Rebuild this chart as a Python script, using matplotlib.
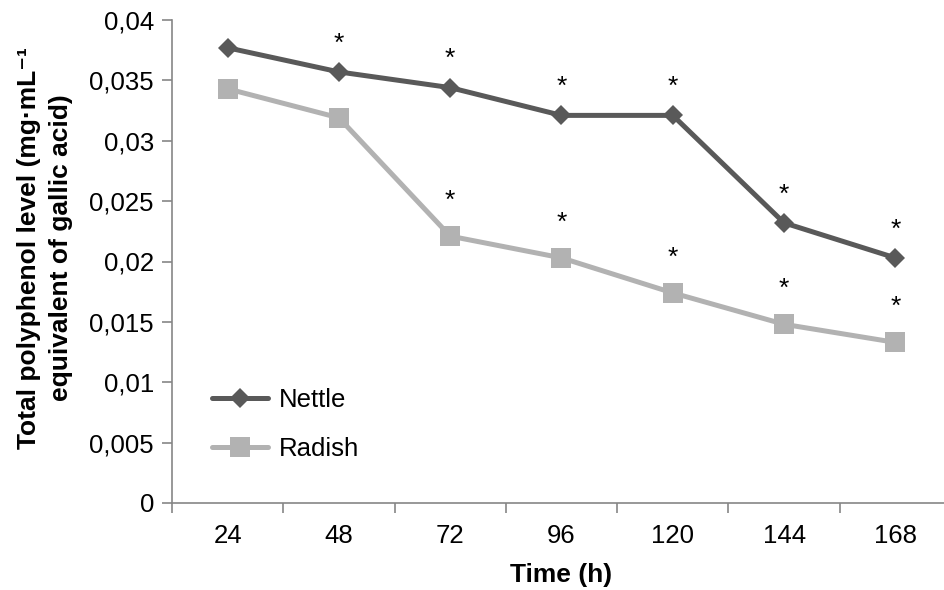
import matplotlib
matplotlib.use("Agg")
import matplotlib.pyplot as plt
import numpy as np

plt.rcParams['font.family'] = ['Liberation Sans', 'DejaVu Sans']

times = ["24", "48", "72", "96", "120", "144", "168"]
nettle = [0.0377, 0.0357, 0.0344, 0.0321, 0.0321, 0.0232, 0.0203]
radish = [0.0343, 0.0319, 0.0221, 0.0203, 0.0174, 0.0148, 0.0133]
nettle_sig = [False, True, True, True, True, True, True]
radish_sig = [False, False, True, True, True, True, True]
yticks = [0, 0.005, 0.01, 0.015, 0.02, 0.025, 0.03, 0.035, 0.04]
ytick_labels = ["0", "0,005", "0,01", "0,015", "0,02", "0,025", "0,03", "0,035", "0,04"]

c_nettle = "#595959"
c_radish = "#b2b2b2"
c_axis = "#868686"
FS = 18.5

fig = plt.figure(figsize=(9.45, 5.9), dpi=100)
ax = fig.add_axes([172/945, 1-503/590, (951-172)/945, (503-20)/590])

x = np.arange(len(times))
ax.plot(x, nettle, color=c_nettle, lw=3.6, marker='D', markersize=10.5,
        markeredgewidth=0, label="Nettle", solid_capstyle='round', zorder=3)
ax.plot(x, radish, color=c_radish, lw=3.6, marker='s', markersize=14,
        markeredgewidth=0, label="Radish", solid_capstyle='round', zorder=3)

for xi, v, s in zip(x, nettle, nettle_sig):
    if s:
        ax.annotate("*", (xi, v), xytext=(0, 20.5), textcoords='offset points',
                    ha='center', va='center', fontsize=19)
for xi, v, s in zip(x, radish, radish_sig):
    if s:
        ax.annotate("*", (xi, v), xytext=(0, 25.5), textcoords='offset points',
                    ha='center', va='center', fontsize=19)

ax.set_xlim(-0.5, len(times) - 0.5)
ax.set_ylim(0, 0.04)
ax.set_yticks(yticks)
ax.set_yticklabels(ytick_labels)
ax.set_xticks(x)
ax.set_xticklabels(times)
ax.set_xticks(np.arange(len(times) + 1) - 0.5, minor=True)
ax.tick_params(axis='x', which='major', length=0, pad=15, labelsize=FS)
ax.tick_params(axis='x', which='minor', length=7, color=c_axis, width=1.2)
ax.tick_params(axis='y', length=7, color=c_axis, width=1.2, labelsize=FS, pad=6)

for sp in ['top', 'right']:
    ax.spines[sp].set_visible(False)
for sp in ['left', 'bottom']:
    ax.spines[sp].set_color(c_axis)
    ax.spines[sp].set_linewidth(1.2)

ax.set_xlabel("Time (h)", fontsize=19, fontweight='bold', labelpad=11)
ax.set_ylabel("Total polyphenol level (mg·mL⁻¹\nequivalent of gallic acid)",
              fontsize=19, fontweight='bold', linespacing=1.4)
ax.yaxis.set_label_coords(-0.127, 0.528)

leg = ax.legend(loc='lower left', bbox_to_anchor=(0.022, 0.04), frameon=False,
                fontsize=FS, handlelength=2.15, labelspacing=0.95, handletextpad=0.45)

fig.savefig("out.png", dpi=100)
